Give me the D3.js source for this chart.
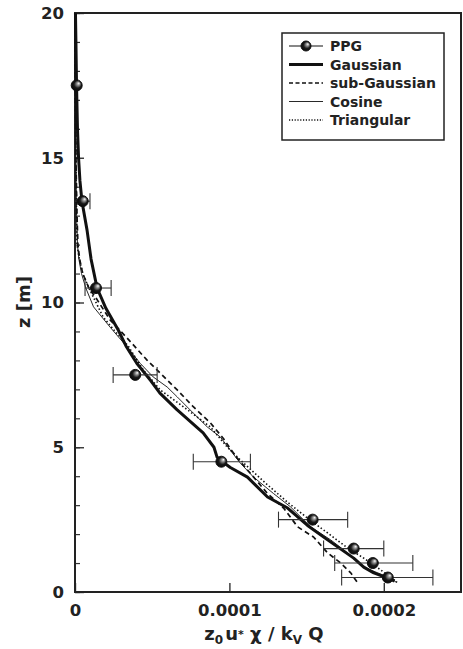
<!DOCTYPE html>
<html>
<head>
<meta charset="utf-8">
<script src="https://cdnjs.cloudflare.com/ajax/libs/d3/7.8.5/d3.min.js"></script>
<style>
  body { margin: 0; background: #fff; }
  svg text { font-family: "DejaVu Sans", sans-serif; font-weight: bold; fill: #222; }
</style>
</head>
<body>
<script>
// PPG measurements (height z, value, error bar ends)
var ppgZ  = [17.5, 13.5, 10.5, 7.5, 4.5, 2.5, 1.5, 1.0, 0.5];
var ppgX  = [0.011e-4, 0.05e-4, 0.136e-4, 0.39e-4, 0.948e-4, 1.539e-4, 1.805e-4, 1.929e-4, 2.026e-4];
var ppgLo = [0.011e-4, 0, 0.065e-4, 0.247e-4, 0.766e-4, 1.318e-4, 1.61e-4, 1.682e-4, 1.727e-4];
var ppgHi = [0.011e-4, 0.097e-4, 0.234e-4, 0.532e-4, 1.136e-4, 1.766e-4, 2.0e-4, 2.188e-4, 2.318e-4];

// model profiles
var gaussZ = [20, 19, 17.5, 16, 15, 14.2, 13.5, 12.5, 11.5, 10.5, 9.8, 9.05, 8.5, 7.9, 7.3, 6.87, 6.3, 5.5, 5.0, 4.66, 4.5, 4.3, 3.97, 3.28, 2.9, 2.3, 1.8, 1.17, 0.86, 0.66, 0.48, 0.38];
var gaussX = [0.003e-4, 0.006e-4, 0.01e-4, 0.016e-4, 0.023e-4, 0.032e-4, 0.045e-4, 0.078e-4, 0.104e-4, 0.143e-4, 0.2e-4, 0.28e-4, 0.33e-4, 0.40e-4, 0.49e-4, 0.55e-4, 0.66e-4, 0.83e-4, 0.90e-4, 0.92e-4, 0.955e-4, 1.006e-4, 1.117e-4, 1.247e-4, 1.377e-4, 1.506e-4, 1.636e-4, 1.805e-4, 1.87e-4, 1.935e-4, 2.026e-4, 2.07e-4];

var subZ = [20, 17, 15, 13, 12, 11.5, 11, 10.5, 10.1, 9.4, 8.77, 8.0, 7.56, 6.98, 6.4, 5.84, 5.3, 4.66, 4.1, 3.4, 2.9, 2.25, 1.9, 1.35, 1.0, 0.66, 0.31];
var subX = [0, 0.003e-4, 0.006e-4, 0.013e-4, 0.019e-4, 0.03e-4, 0.05e-4, 0.09e-4, 0.143e-4, 0.227e-4, 0.338e-4, 0.468e-4, 0.552e-4, 0.662e-4, 0.766e-4, 0.877e-4, 0.961e-4, 1.045e-4, 1.136e-4, 1.247e-4, 1.351e-4, 1.442e-4, 1.545e-4, 1.636e-4, 1.721e-4, 1.786e-4, 1.831e-4];

var cosZ = [20, 17, 15, 13, 12, 11.5, 11, 10.5, 9.85, 9.15, 8.46, 7.9, 7.43, 7.08, 6.74, 6.18, 5.7, 5.35, 4.8, 4.45, 3.97, 3.4, 2.94, 2.25, 1.8, 1.35, 0.86, 0.66, 0.48, 0.35];
var cosX = [0, 0.003e-4, 0.006e-4, 0.01e-4, 0.016e-4, 0.025e-4, 0.042e-4, 0.07e-4, 0.12e-4, 0.227e-4, 0.338e-4, 0.422e-4, 0.506e-4, 0.597e-4, 0.662e-4, 0.766e-4, 0.857e-4, 0.942e-4, 1.02e-4, 1.071e-4, 1.156e-4, 1.286e-4, 1.396e-4, 1.526e-4, 1.656e-4, 1.766e-4, 1.87e-4, 1.961e-4, 2.045e-4, 2.078e-4];

var triZ = [20, 17, 15, 13, 12, 11.5, 11, 10.5, 9.5, 9, 8.5, 7.67, 6.98, 6.3, 5.7, 5.0, 4.56, 3.7, 3.1, 2.55, 2.04, 1.52, 1.17, 0.76, 0.31];
var triX = [0, 0.003e-4, 0.006e-4, 0.01e-4, 0.013e-4, 0.028e-4, 0.05e-4, 0.09e-4, 0.182e-4, 0.26e-4, 0.344e-4, 0.442e-4, 0.552e-4, 0.727e-4, 0.877e-4, 0.987e-4, 1.071e-4, 1.247e-4, 1.377e-4, 1.506e-4, 1.636e-4, 1.766e-4, 1.87e-4, 1.981e-4, 2.091e-4];

var xTicks = [0, 0.0001, 0.0002];
var yTicks = [0, 5, 10, 15, 20];
var legendNames = ['PPG', 'Gaussian', 'sub-Gaussian', 'Cosine', 'Triangular'];

var W = 463, H = 649;
// plot box (window.top is reserved, so prefixed names)
var plotL = 75, plotR = 461, plotT = 13, plotB = 592;

var svg = d3.select('body').append('svg')
  .attr('width', W)
  .attr('height', H);

var defs = svg.append('defs');
var grad = defs.append('radialGradient')
  .attr('id', 'ball')
  .attr('cx', '0.5').attr('cy', '0.5').attr('r', '0.6')
  .attr('fx', '0.7').attr('fy', '0.3');
grad.append('stop').attr('offset', '0').attr('stop-color', '#fff');
grad.append('stop').attr('offset', '0.22').attr('stop-color', '#999');
grad.append('stop').attr('offset', '0.55').attr('stop-color', '#1a1a1a');
grad.append('stop').attr('offset', '1').attr('stop-color', '#000');

var x = d3.scaleLinear().domain([0, 0.00025]).range([plotL, plotR]);
var y = d3.scaleLinear().domain([0, 20]).range([plotB, plotT]);

// minor y ticks
svg.append('g')
  .attr('transform', 'translate(' + plotL + ',0)')
  .call(d3.axisLeft(y).tickValues(d3.range(0, 21)).tickSize(-5).tickFormat(''))
  .call(function(g){ g.select('.domain').remove(); })
  .selectAll('line').attr('stroke', '#333').attr('stroke-width', 1.2);

// major y ticks + labels
svg.append('g')
  .attr('transform', 'translate(' + plotL + ',0)')
  .call(d3.axisLeft(y).tickValues(yTicks).tickSizeInner(-9).tickSizeOuter(0).tickPadding(11).tickFormat(d3.format('d')))
  .call(function(g){
    g.select('.domain').remove();
    g.selectAll('line').attr('stroke', '#333').attr('stroke-width', 1.4);
    g.selectAll('text').attr('font-size', 16.5).attr('fill', '#222');
  });

// x ticks + labels
svg.append('g')
  .attr('transform', 'translate(0,' + plotB + ')')
  .call(d3.axisBottom(x).tickValues(xTicks).tickSizeInner(-9).tickSizeOuter(0).tickPadding(12)
    .tickFormat(function(d){ return d === 0 ? '0' : d.toFixed(4); }))
  .call(function(g){
    g.select('.domain').remove();
    g.selectAll('line').attr('stroke', '#333').attr('stroke-width', 1.4);
    g.selectAll('text').attr('font-size', 16.5).attr('fill', '#222');
  });

// frame
svg.append('rect')
  .attr('x', plotL).attr('y', plotT)
  .attr('width', plotR - plotL).attr('height', plotB - plotT)
  .attr('fill', 'none')
  .attr('stroke', '#222')
  .attr('stroke-width', 2);

var line = d3.line()
  .x(function(d){ return x(d[0]); })
  .y(function(d){ return y(d[1]); });

var curves = [
  { xs: triX, zs: triZ, w: 1.6, dash: '1.5,2.2' },
  { xs: cosX, zs: cosZ, w: 0.9, dash: null },
  { xs: subX, zs: subZ, w: 1.7, dash: '5,3.5' },
  { xs: gaussX, zs: gaussZ, w: 3, dash: null }
];

curves.forEach(function(c){
  svg.append('path')
    .datum(d3.zip(c.xs, c.zs))
    .attr('d', line)
    .attr('fill', 'none')
    .attr('stroke', '#111')
    .attr('stroke-width', c.w)
    .attr('stroke-linejoin', 'round')
    .attr('stroke-dasharray', c.dash);
});

// error bars
var ppg = ppgZ.map(function(z, i){
  return { z: z, v: ppgX[i], lo: ppgLo[i], hi: ppgHi[i] };
});
var bars = svg.append('g').attr('stroke', '#333').attr('stroke-width', 1.1);
ppg.filter(function(d){ return d.hi > d.lo; }).forEach(function(d){
  bars.append('line')
    .attr('x1', x(d.lo)).attr('x2', x(d.hi))
    .attr('y1', y(d.z)).attr('y2', y(d.z));
  [d.lo, d.hi].forEach(function(e){
    if(e === 0) return;
    bars.append('line')
      .attr('x1', x(e)).attr('x2', x(e))
      .attr('y1', y(d.z) - 8).attr('y2', y(d.z) + 8);
  });
});

svg.append('g').selectAll('circle')
  .data(ppg)
  .join('circle')
  .attr('cx', function(d){ return x(d.v); })
  .attr('cy', function(d){ return y(d.z); })
  .attr('r', 5.5)
  .attr('fill', 'url(#ball)')
  .attr('stroke', '#111')
  .attr('stroke-width', 1);

// axis titles
var xt = svg.append('text')
  .attr('x', 264).attr('y', 640)
  .attr('text-anchor', 'middle')
  .attr('font-size', 18);
xt.append('tspan').text('z');
xt.append('tspan').attr('font-size', 12).attr('dy', 4).text('0');
xt.append('tspan').attr('dy', -4).attr('dx', 2).text('u');
xt.append('tspan').attr('font-size', 11).attr('dy', -2).text('*');
xt.append('tspan').attr('dy', 2).text(' χ / k');
xt.append('tspan').attr('font-size', 12).attr('dy', 4).text('V');
xt.append('tspan').attr('dy', -4).text(' Q');

svg.append('text')
  .attr('transform', 'translate(30,302) rotate(-90)')
  .attr('text-anchor', 'middle')
  .attr('font-size', 18)
  .text('z [m]');

// legend
var lg = svg.append('g');
lg.append('rect')
  .attr('x', 282).attr('y', 33)
  .attr('width', 162).attr('height', 107)
  .attr('fill', '#fff')
  .attr('stroke', '#222')
  .attr('stroke-width', 1.5);

var legendStyle = [
  { w: 1.2, dash: null },
  { w: 3, dash: null },
  { w: 1.7, dash: '4,2.5' },
  { w: 0.9, dash: null },
  { w: 1.6, dash: '1.2,1.6' }
];
var legendY = d3.scalePoint().domain(legendNames).range([46, 120]);

legendNames.forEach(function(name, i){
  var ly = legendY(name);
  lg.append('line')
    .attr('x1', 289).attr('x2', 323)
    .attr('y1', ly).attr('y2', ly)
    .attr('stroke', '#111')
    .attr('stroke-width', legendStyle[i].w)
    .attr('stroke-dasharray', legendStyle[i].dash);
  if(i === 0){
    lg.append('circle')
      .attr('cx', 306).attr('cy', ly).attr('r', 5)
      .attr('fill', 'url(#ball)')
      .attr('stroke', '#111');
  }
  lg.append('text')
    .attr('x', 330).attr('y', ly)
    .attr('dy', '0.36em')
    .attr('font-size', 14)
    .text(name);
});
</script>
</body>
</html>
